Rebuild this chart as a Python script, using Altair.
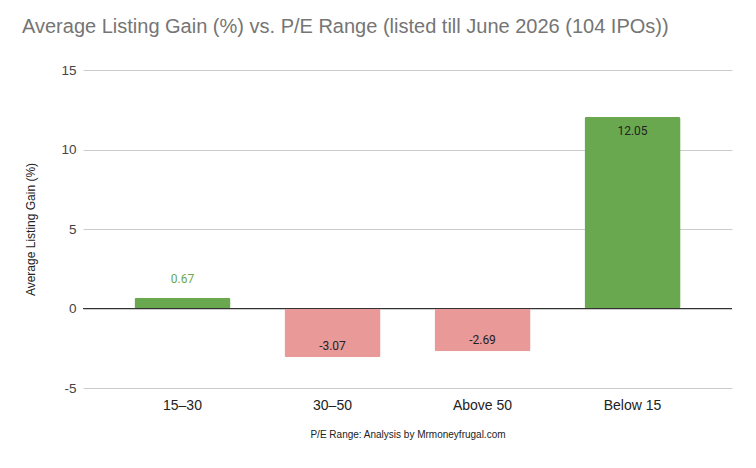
import altair as alt
import pandas as pd

categories = ["15–30", "30–50", "Above 50", "Below 15"]
values = [0.67, -3.07, -2.69, 12.05]

df = pd.DataFrame({"range": categories, "gain": values})

GREEN = "#6aa84f"
RED = "#ea9999"

base = alt.Chart(df).transform_calculate(label="'' + datum.gain")

x_enc = alt.X(
    "range:N",
    sort=categories,
    scale=alt.Scale(paddingInner=0.36, paddingOuter=0.343),
    axis=alt.Axis(
        title="P/E Range: Analysis by Mrmoneyfrugal.com",
        labelAngle=0,
        labelFontSize=14,
        labelColor="#222222",
        labelFont="Liberation Sans",
        labelPadding=10,
        ticks=False,
        domain=False,
        titleFont="Liberation Sans",
        titleFontSize=10,
        titleFontWeight="normal",
        titleColor="#222222",
        titlePadding=17,
    ),
)

y_scale = alt.Scale(domain=[-5, 15], nice=False)

bars = base.mark_bar(cornerRadius=2).encode(
    x=x_enc,
    y=alt.Y(
        "gain:Q",
        scale=y_scale,
        axis=alt.Axis(
            title="Average Listing Gain (%)",
            values=[-5, 0, 5, 10, 15],
            labelExpr="'' + datum.value",
            grid=True,
            gridColor="#cccccc",
            domain=False,
            ticks=False,
            labelFontSize=13.5,
            labelColor="#444444",
            labelFont="Liberation Sans",
            labelPadding=7,
            titleFont="Liberation Sans",
            titleFontSize=12,
            titleFontWeight="normal",
            titleColor="#222222",
            titleX=-53,
            titleBaseline="middle",
        ),
    ),
    color=alt.condition(alt.datum.gain >= 0, alt.value(GREEN), alt.value(RED)),
)

zero = base.mark_rule(color="#333333", strokeWidth=1).encode(y=alt.datum(0))

xs = alt.X("range:N", sort=categories)

lbl_inside_top = base.transform_filter("datum.gain >= 5").mark_text(
    font="Roboto", fontSize=12, color="#222222", dy=14, baseline="middle"
).encode(x=xs, y="gain:Q", text="label:N")

lbl_outside = base.transform_filter("datum.gain >= 0 && datum.gain < 5").mark_text(
    font="Roboto", fontSize=12, color=GREEN, dy=-19, baseline="middle"
).encode(x=xs, y="gain:Q", text="label:N")

lbl_neg = base.transform_filter("datum.gain < 0").mark_text(
    font="Roboto", fontSize=12, color="#222222", dy=-11, baseline="middle"
).encode(x=xs, y="gain:Q", text="label:N")

chart = (
    alt.layer(bars, zero, lbl_inside_top, lbl_outside, lbl_neg)
    .properties(
        width=649,
        height=318,
        title=alt.TitleParams(
            "Average Listing Gain (%) vs. P/E Range (listed till June 2026 (104 IPOs))",
            anchor="start",
            frame="group",
            dx=-61,
            offset=26,
            fontSize=20,
            color="#757575",
            font="Liberation Sans",
            fontWeight="normal",
        ),
        autosize=alt.AutoSizeParams(type="none"),
        padding={"left": 83, "top": 70, "right": 24, "bottom": 80},
        background="white",
    )
    .configure_view(stroke=None)
)

chart.save("out.html", embed_options={"renderer": "svg", "actions": False})
